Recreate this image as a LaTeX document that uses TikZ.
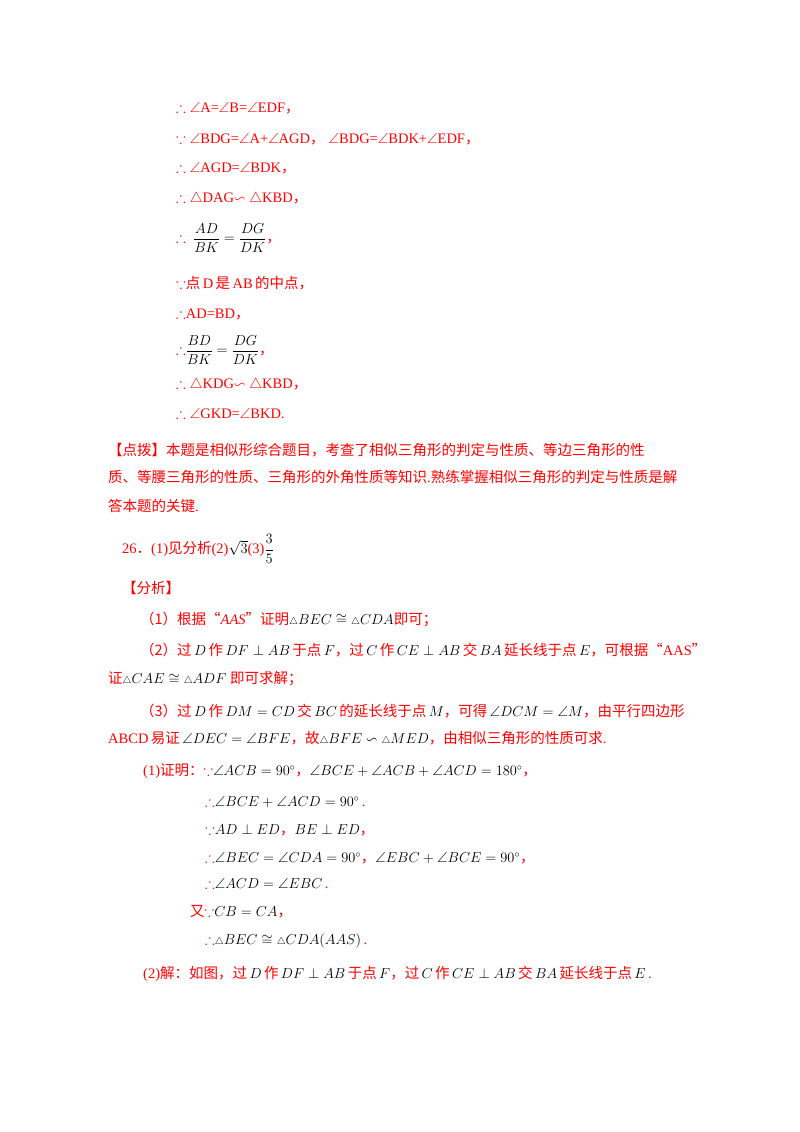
\documentclass[tikz,border=0pt]{standalone}
\usepackage{amsmath,amssymb}
\usepackage{fontspec}
\setmainfont{Liberation Serif}
\newfontfamily\cjk{Noto Sans CJK SC}
\newcommand\zh[1]{{\cjk #1}}
\newcommand\mk[1]{{\color{black}$#1$}}
\newcommand\tri{{\scriptstyle\triangle}}
\tikzset{ln/.style={anchor=west,inner sep=0pt,text=red,font=\fontsize{14.5}{16}\selectfont}}
\begin{document}
\begin{tikzpicture}[x=1pt,y=-1pt]
\useasboundingbox (0,0) rectangle (800,1132);
\node[ln] (l1) at (176,108) {$\therefore\angle$A=$\angle$B=$\angle$EDF\zh{，}};
\node[ln] (l2) at (176,139) {$\because\angle$BDG=$\angle$A+$\angle$AGD\zh{，}$\;\angle$BDG=$\angle$BDK+$\angle$EDF\zh{，}};
\node[ln] (l3) at (176,168) {$\therefore\angle$AGD=$\angle$BDK\zh{，}};
\node[ln] (l4) at (176,199) {$\therefore\triangle$DAG$\backsim\triangle$KBD\zh{，}};
\node[ln] (l5) at (176,238) {$\therefore$\ \ \mk{\dfrac{AD}{BK}=\dfrac{DG}{DK}}\zh{，}};
\node[ln] (l6) at (176,283) {$\because$\zh{点}\,D\,\zh{是}\,AB\,\zh{的中点，}};
\node[ln] (l7) at (176,314) {$\therefore$AD=BD\zh{，}};
\node[ln] (l8) at (176,350) {$\therefore$\mk{\dfrac{BD}{BK}=\dfrac{DG}{DK}}\zh{，}};
\node[ln] (l9) at (176,385) {$\therefore\triangle$KDG$\backsim\triangle$KBD\zh{，}};
\node[ln] (l10) at (176,414) {$\therefore\angle$GKD=$\angle$BKD.};
\node[ln] (l11) at (108,450) {\zh{【点拨】本题是相似形综合题目，考查了相似三角形的判定与性质、等边三角形的性}};
\node[ln] (l12) at (108,477) {\zh{质、等腰三角形的性质、三角形的外角性质等知识}.\zh{熟练掌握相似三角形的判定与性质是解}};
\node[ln] (l13) at (108,506) {\zh{答本题的关键}.};
\node[ln] (l14) at (122,549) {26\zh{．}(1)\zh{见分析}(2)\mk{\sqrt{3}}(3)\mk{\dfrac{3}{5}}};
\node[ln] (l15) at (122,588) {\zh{【分析】}};
\node[ln] (l16) at (140,619) {\zh{（1）根据“}\textit{AAS}\zh{”证明}\mk{\tri BEC\cong\tri CDA}\zh{即可；}};
\node[ln] (l17) at (140,650) {\zh{（2）过}\,\mk{D}\,\zh{作}\,\mk{DF\perp AB}\,\zh{于点}\,\mk{F}\zh{，过}\,\mk{C}\,\zh{作}\,\mk{CE\perp AB}\,\zh{交}\,\mk{BA}\,\zh{延长线于点}\,\mk{E}\zh{，可根据“}AAS\zh{”}};
\node[ln] (l18) at (108,679) {\zh{证}\mk{\tri CAE\cong\tri ADF}\ \zh{即可求解；}};
\node[ln] (l19) at (140,711) {\zh{（3）过}\,\mk{D}\,\zh{作}\,\mk{DM=CD}\,\zh{交}\,\mk{BC}\,\zh{的延长线于点}\,\mk{M}\zh{，可得}\,\mk{\angle DCM=\angle M}\zh{，由平行四边形}};
\node[ln] (l20) at (108,738) {ABCD\,\zh{易证}\,\mk{\angle DEC=\angle BFE}\zh{，故}\mk{\tri BFE\backsim\tri MED}\zh{，由相似三角形的性质可求}.};
\node[ln] (l21) at (143,771) {(1)\zh{证明：}$\because$\mk{\angle ACB=90^\circ}\zh{，}\mk{\angle BCE+\angle ACB+\angle ACD=180^\circ}\zh{，}};
\node[ln] (l22) at (205,802) {$\therefore$\mk{\angle BCE+\angle ACD=90^\circ}\,.};
\node[ln] (l23) at (205,830) {$\because$\mk{AD\perp ED}\zh{，}\mk{BE\perp ED}\zh{，}};
\node[ln] (l24) at (205,858) {$\therefore$\mk{\angle BEC=\angle CDA=90^\circ}\zh{，}\mk{\angle EBC+\angle BCE=90^\circ}\zh{，}};
\node[ln] (l25) at (205,884) {$\therefore$\mk{\angle ACD=\angle EBC}\,.};
\node[ln] (l26) at (190,912) {\zh{又}$\because$\mk{CB=CA}\zh{，}};
\node[ln] (l27) at (205,941) {$\therefore$\mk{\tri BEC\cong\tri CDA(AAS)}\,.};
\node[ln] (l28) at (143,974) {(2)\zh{解：如图，过}\,\mk{D}\,\zh{作}\,\mk{DF\perp AB}\,\zh{于点}\,\mk{F}\zh{，过}\,\mk{C}\,\zh{作}\,\mk{CE\perp AB}\,\zh{交}\,\mk{BA}\,\zh{延长线于点}\,\mk{E}\,.};
\end{tikzpicture}
\end{document}
